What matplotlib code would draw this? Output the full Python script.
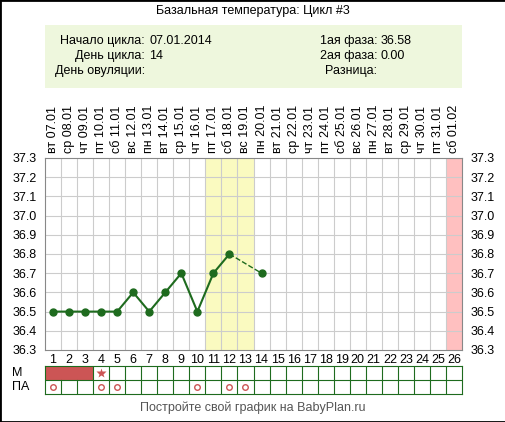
import matplotlib
matplotlib.use("Agg")
import matplotlib.pyplot as plt
from matplotlib.patches import Rectangle

days = list(range(1, 27))
dates = ["07.01", "08.01", "09.01", "10.01", "11.01", "12.01", "13.01", "14.01", "15.01",
         "16.01", "17.01", "18.01", "19.01", "20.01", "21.01", "22.01", "23.01", "24.01",
         "25.01", "26.01", "27.01", "28.01", "29.01", "30.01", "31.01", "01.02"]
weekdays = ["вт", "ср", "чт", "пт", "сб", "вс", "пн"]
temp_days = [1, 2, 3, 4, 5, 6, 7, 8, 9, 10, 11, 12]
temps = [36.5, 36.5, 36.5, 36.5, 36.5, 36.6, 36.5, 36.6, 36.7, 36.5, 36.7, 36.8]
gap_days = [12, 14]
gap_temps = [36.8, 36.7]
ovul_days = [11, 12, 13]
m_days = [1, 2, 3]
m_star = [4]
pa_days = [1, 4, 5, 10, 12, 13]

W, H = 506, 422
plt.rcParams["font.family"] = ["Liberation Sans", "DejaVu Sans"]
fig = plt.figure(figsize=(W / 100, H / 100), dpi=100)
fig.patches.append(Rectangle((0, 0), 1, 1, transform=fig.transFigure, fill=False,
                             edgecolor="black", linewidth=2))
fs = 9

def px(x0, y0, x1, y1):
    return [x0 / W, 1 - y1 / H, (x1 - x0) / W, (y1 - y0) / H]

# header
fig.text(0.5, 1 - 11 / H, "Базальная температура: Цикл #3", ha="center", va="center", fontsize=fs)
fig.patches.append(Rectangle((45 / W, 1 - 88 / H), 417 / W, 63 / H, transform=fig.transFigure,
                             facecolor="#eef7dd", edgecolor="none"))
rows = [("Начало цикла:", "07.01.2014", "1ая фаза:", "36.58"),
        ("День цикла:", "14", "2ая фаза:", "0.00"),
        ("День овуляции:", "", "Разница:", "")]
for i, (a, b, c, d) in enumerate(rows):
    y = 1 - (41 + i * 15) / H
    fig.text(145 / W, y, a, ha="right", va="center", fontsize=fs)
    fig.text(149 / W, y, b, ha="left", va="center", fontsize=fs)
    fig.text(377 / W, y, c, ha="right", va="center", fontsize=fs)
    fig.text(381 / W, y, d, ha="left", va="center", fontsize=fs)

# main chart
ax = fig.add_axes(px(45, 158, 462, 350))
ax.set_xlim(0.5, 26.5)
ax.set_ylim(36.3, 37.3)
for d in ovul_days:
    ax.axvspan(d - 0.5, d + 0.5, color="#fafac0", lw=0)
ax.axvspan(25.5, 26.5, color="#ffc0c0", lw=0)
for x in range(1, 26):
    ax.axvline(x + 0.5, color="#cccccc", lw=0.8)
for k in range(1, 10):
    ax.axhline(36.3 + k * 0.1, color="#cccccc", lw=0.8)
ax.plot(temp_days, temps, color="#1e6b1e", lw=1.5, marker="o", ms=5)
ax.plot(gap_days, gap_temps, color="#1e6b1e", lw=1, ls="--")
ax.plot([14], [36.7], color="#1e6b1e", marker="o", ms=5)
yt = [round(36.3 + k * 0.1, 1) for k in range(11)]
ax.set_yticks(yt)
ax.set_yticklabels([f"{v:.1f}" for v in yt], fontsize=fs)
ax.tick_params(axis="y", length=0, labelright=True, right=False, pad=6)
ax.set_xticks(days)
ax.set_xticklabels([str(d) for d in days], fontsize=fs)
ax.tick_params(axis="x", length=0, pad=3)
for s in ax.spines.values():
    s.set_color("#888888")
    s.set_linewidth(0.8)
for i, d in enumerate(days):
    ax.text(d, 37.3 + 0.025, weekdays[i % 7] + " " + dates[i], rotation=90,
            ha="center", va="bottom", fontsize=fs)

# M / PA rows
bx = fig.add_axes(px(45, 366, 462, 394))
bx.set_xlim(0.5, 26.5)
bx.set_ylim(0, 2)
for d in m_days:
    bx.add_patch(Rectangle((d - 0.5, 1), 1, 1, facecolor="#cc5555", edgecolor="none"))
for d in m_star:
    bx.plot(d, 1.5, marker="*", color="#cc5555", ms=7, mec="none")
for d in pa_days:
    bx.plot(d, 0.5, marker="o", mfc="white", mec="#cc5555", ms=4, mew=1)
for x in range(1, 26):
    top = 2 if x >= 3 else 1
    bx.plot([x + 0.5, x + 0.5], [0, top], color="#1e6b1e", lw=0.8)
bx.axhline(1, color="#1e6b1e", lw=0.8)
for s in bx.spines.values():
    s.set_color("#1e6b1e")
    s.set_linewidth(0.8)
bx.set_xticks([])
bx.set_yticks([])
fig.text(12 / W, 1 - 373 / H, "М", ha="left", va="center", fontsize=fs)
fig.text(12 / W, 1 - 387 / H, "ПА", ha="left", va="center", fontsize=fs)

fig.text(0.5, 1 - 408 / H, "Постройте свой график на BabyPlan.ru", ha="center", va="center",
         fontsize=fs, color="#555555")

fig.savefig("out.png", dpi=100)
